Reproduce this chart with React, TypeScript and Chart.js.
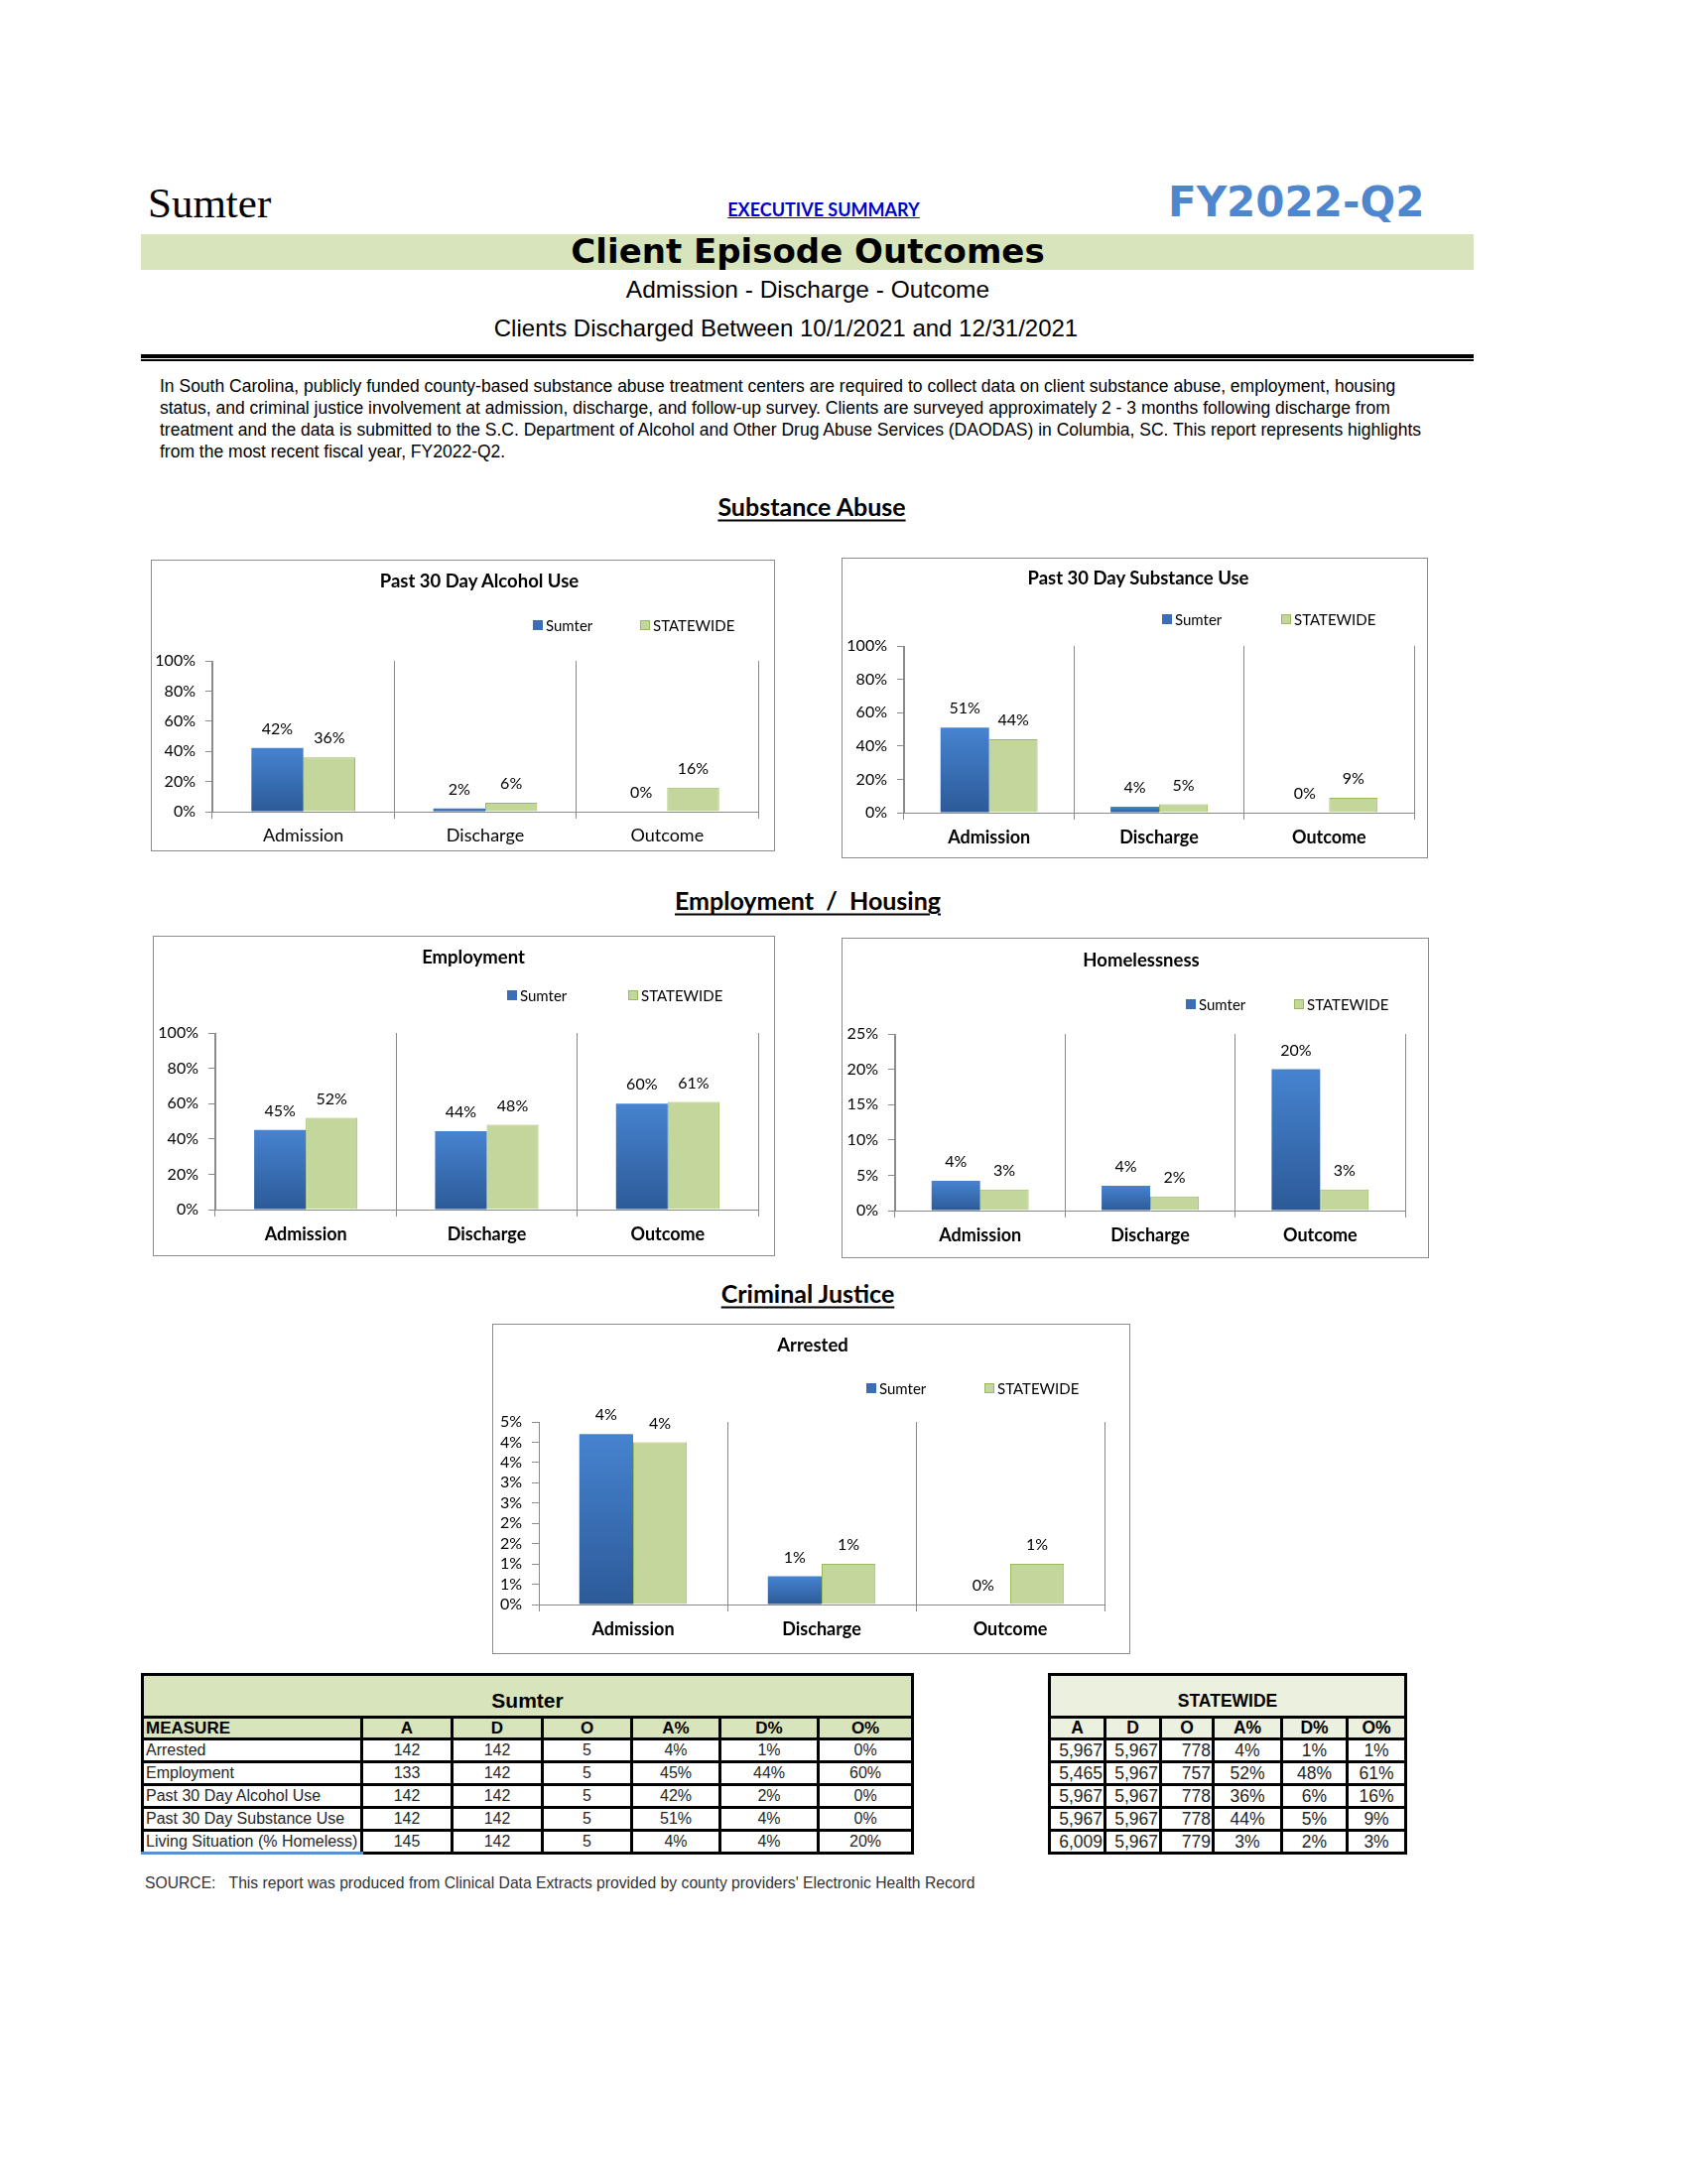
import React, { useEffect, useRef } from "react";
import { Chart, registerables } from "chart.js";

Chart.register(...registerables);
Chart.defaults.font.family = "Lato, 'Open Sans', sans-serif";

// ---------------- data ----------------
const categories = ["Admission", "Discharge", "Outcome"];
const seriesLabels = ["Sumter", "STATEWIDE"];

const alcoholSumter = [42.3, 2.1, 0];
const alcoholStatewide = [36, 6, 16];
const substanceSumter = [51, 3.5, 0];
const substanceStatewide = [44, 5, 9];
const employmentSumter = [45.1, 44.4, 60];
const employmentStatewide = [52, 48, 61];
const homelessSumter = [4.2, 3.5, 20];
const homelessStatewide = [3, 2, 3];
const arrestedSumter = [4.2, 0.7, 0];
const arrestedStatewide = [4, 1, 1];

const tableColumns = ["A", "D", "O", "A%", "D%", "O%"];
const measures = [
  "Arrested",
  "Employment",
  "Past 30 Day Alcohol Use",
  "Past 30 Day Substance Use",
  "Living Situation (% Homeless)",
];
const sumterA = ["142", "133", "142", "142", "145"];
const sumterD = ["142", "142", "142", "142", "142"];
const sumterO = ["5", "5", "5", "5", "5"];
const sumterAPct = ["4%", "45%", "42%", "51%", "4%"];
const sumterDPct = ["1%", "44%", "2%", "4%", "4%"];
const sumterOPct = ["0%", "60%", "0%", "0%", "20%"];
const stateA = ["5,967", "5,465", "5,967", "5,967", "6,009"];
const stateD = ["5,967", "5,967", "5,967", "5,967", "5,967"];
const stateO = ["778", "757", "778", "778", "779"];
const stateAPct = ["4%", "52%", "36%", "44%", "3%"];
const stateDPct = ["1%", "48%", "6%", "5%", "2%"];
const stateOPct = ["1%", "61%", "16%", "9%", "3%"];

const introLines = [
  "In South Carolina, publicly funded county-based substance abuse treatment centers are required to collect data on client substance abuse, employment, housing",
  "status, and criminal justice involvement at admission, discharge, and follow-up survey. Clients are surveyed approximately 2 - 3 months following discharge from",
  "treatment and the data is submitted to the S.C. Department of Alcohol and Other Drug Abuse Services (DAODAS) in Columbia, SC.  This report represents highlights",
  "from the most recent fiscal year, FY2022-Q2.",
];

// ---------------- styles ----------------
const AXIS = "#8a8a8a";
const GREEN = "#c3d69b";
const GREEN_EDGE = "#9bbb59";
const BLUE_SOLID = "#3a6fb7";

const blueGradient = (ctx: any) => {
  const chart = ctx.chart;
  if (ctx.type !== "data" || !chart.chartArea || !chart.scales || !chart.scales.y) return BLUE_SOLID;
  const ys = chart.scales.y;
  const v = Number(ctx.raw);
  const top = ys.getPixelForValue(v);
  const base = ys.getPixelForValue(0);
  if (!isFinite(top) || !isFinite(base) || base - top < 1) return BLUE_SOLID;
  const g = chart.ctx.createLinearGradient(0, top, 0, base);
  g.addColorStop(0, "#4683d0");
  g.addColorStop(1, "#2c5a98");
  return g;
};

const valueLabels = {
  id: "valueLabels",
  afterDatasetsDraw(chart: any) {
    const ctx = chart.ctx;
    ctx.save();
    ctx.font = "16px Lato, 'Open Sans', sans-serif";
    ctx.fillStyle = "#000";
    ctx.textAlign = "center";
    ctx.textBaseline = "middle";
    chart.data.datasets.forEach((ds: any, i: number) => {
      const meta = chart.getDatasetMeta(i);
      meta.data.forEach((el: any, j: number) => {
        const v = Number(ds.data[j]);
        ctx.fillText(Math.round(v) + "%", el.x, el.y - 19);
      });
    });
    ctx.restore();
  },
};

type ChartProps = {
  title: string;
  sumter: number[];
  statewide: number[];
  yMax: number;
  yStep: number;
  boldCats: boolean;
  box: [number, number, number, number];
  plot: [number, number, number, number];
  titleXY: [number, number];
  legendY: number;
  legendX: [number, number];
  catY: number;
};

function BarChart(p: ChartProps) {
  const ref = useRef<HTMLCanvasElement | null>(null);
  const [L, T, R, B] = p.box;
  const [pL, pT, pR, pB] = p.plot;
  const w = R - L;
  const h = B - T;
  useEffect(() => {
    const canvas = ref.current;
    if (!canvas) return;
    const chart = new Chart(canvas, {
      type: "bar",
      data: {
        labels: categories,
        datasets: [
          { label: seriesLabels[0], data: p.sumter, backgroundColor: blueGradient as any, borderWidth: 0 },
          { label: seriesLabels[1], data: p.statewide, backgroundColor: GREEN, borderColor: GREEN_EDGE, borderWidth: 1 },
        ],
      },
      options: {
        responsive: false,
        animation: false,
        devicePixelRatio: 1,
        layout: { padding: { top: pT - T, right: R - pR, left: 0, bottom: 0 } },
        plugins: { legend: { display: false }, title: { display: false }, tooltip: { enabled: false } },
        datasets: { bar: { categoryPercentage: 0.571, barPercentage: 1 } },
        scales: {
          x: {
            afterFit: (s: any) => {
              s.height = B - pB;
            },
            grid: { offset: true, color: AXIS, lineWidth: 1, drawTicks: true, tickLength: 7 },
            border: { display: true, color: AXIS, width: 1 },
            ticks: {
              color: "#000",
              font: { size: 18, weight: p.boldCats ? "bold" : "normal" },
              padding: Math.max(0, p.catY - pB - 7 - 10.8),
            },
          },
          y: {
            afterFit: (s: any) => {
              s.width = pL - L;
            },
            min: 0,
            max: p.yMax,
            ticks: {
              stepSize: p.yStep,
              autoSkip: false,
              color: "#000",
              font: { size: 16 },
              padding: 10,
              callback: (v: any) => Math.round(Math.round(Number(v) * 1000) / 1000) + "%",
            },
            grid: { drawOnChartArea: false, drawTicks: true, tickLength: 7, color: AXIS },
            border: { display: true, color: AXIS, width: 1 },
          },
        },
      } as any,
      plugins: [valueLabels as any],
    });
    return () => chart.destroy();
  }, []);

  const legendText: React.CSSProperties = {
    position: "absolute",
    fontFamily: "Lato, sans-serif",
    fontSize: 15,
    lineHeight: "15px",
    top: p.legendY - 7.5,
    whiteSpace: "nowrap",
  };
  return (
    <>
      <div
        style={{
          position: "absolute",
          left: L,
          top: T,
          width: w,
          height: h,
          border: "1px solid #8c8c8c",
          boxSizing: "border-box",
        }}
      />
      <canvas ref={ref} width={w} height={h} style={{ position: "absolute", left: L, top: T, width: w, height: h }} />
      <div
        style={{
          position: "absolute",
          left: p.titleXY[0],
          top: p.titleXY[1],
          transform: "translate(-50%, -50%)",
          fontFamily: "Lato, sans-serif",
          fontWeight: "bold",
          fontSize: 18.5,
          lineHeight: "19px",
          whiteSpace: "nowrap",
        }}
      >
        {p.title}
      </div>
      <div style={{ position: "absolute", left: p.legendX[0], top: p.legendY - 5, width: 10, height: 10, background: BLUE_SOLID }} />
      <div style={{ ...legendText, left: p.legendX[0] + 13 }}>{seriesLabels[0]}</div>
      <div
        style={{
          position: "absolute",
          left: p.legendX[1],
          top: p.legendY - 5,
          width: 10,
          height: 10,
          background: GREEN,
          border: "1px solid " + GREEN_EDGE,
          boxSizing: "border-box",
        }}
      />
      <div style={{ ...legendText, left: p.legendX[1] + 13 }}>{seriesLabels[1]}</div>
    </>
  );
}

function CText(props: { x: number; y: number; style?: React.CSSProperties; children: React.ReactNode }) {
  return (
    <div
      style={{
        position: "absolute",
        left: props.x,
        top: props.y,
        transform: "translate(-50%, -50%)",
        whiteSpace: "nowrap",
        lineHeight: 1,
        ...props.style,
      }}
    >
      {props.children}
    </div>
  );
}

function LText(props: { x: number; y: number; style?: React.CSSProperties; children: React.ReactNode }) {
  return (
    <div
      style={{
        position: "absolute",
        left: props.x,
        top: props.y,
        transform: "translateY(-50%)",
        whiteSpace: "nowrap",
        lineHeight: 1.15,
        ...props.style,
      }}
    >
      {props.children}
    </div>
  );
}

const heading: React.CSSProperties = {
  fontFamily: "Lato, sans-serif",
  fontWeight: "bold",
  fontSize: 25,
  textDecoration: "underline",
  textUnderlineOffset: 4,
};

const cell: React.CSSProperties = {
  border: "3px solid #000",
  padding: "0 3px",
  fontSize: 16,
  lineHeight: "16px",
  color: "#262626",
  whiteSpace: "nowrap",
  overflow: "hidden",
};

function SumterTable() {
  const widths = [221, 91, 91, 90, 89, 99, 95];
  const rows = measures.map((m, i) => [m, sumterA[i], sumterD[i], sumterO[i], sumterAPct[i], sumterDPct[i], sumterOPct[i]]);
  return (
    <table
      style={{
        position: "absolute",
        left: 142,
        top: 1686,
        width: 776,
        borderCollapse: "collapse",
        tableLayout: "fixed",
        fontFamily: "'Liberation Sans', Arial, sans-serif",
      }}
    >
      <colgroup>
        {widths.map((w, i) => (
          <col key={i} style={{ width: w }} />
        ))}
      </colgroup>
      <tbody>
        <tr style={{ height: 43 }}>
          <td
            colSpan={7}
            style={{ ...cell, background: "#d8e4bc", textAlign: "center", verticalAlign: "bottom", fontWeight: "bold", fontSize: 21, lineHeight: "21px", color: "#000", paddingBottom: 5 }}
          >
            Sumter
          </td>
        </tr>
        <tr style={{ height: 22 }}>
          <td style={{ ...cell, background: "#d8e4bc", fontWeight: "bold", fontSize: 17, lineHeight: "17px", color: "#000", padding: "0 2px" }}>MEASURE</td>
          {tableColumns.map((c) => (
            <td key={c} style={{ ...cell, background: "#d8e4bc", fontWeight: "bold", fontSize: 17, lineHeight: "17px", color: "#000", textAlign: "center" }}>
              {c}
            </td>
          ))}
        </tr>
        {rows.map((r, i) => (
          <tr key={i} style={{ height: 23 }}>
            {r.map((v, j) => (
              <td
                key={j}
                style={{
                  ...cell,
                  textAlign: j === 0 ? "left" : "center",
                  padding: j === 0 ? "0 2px" : "0 3px",
                  ...(i === rows.length - 1 && j === 0 ? { borderBottom: "3px solid #5b8fd0" } : {}),
                }}
              >
                {v}
              </td>
            ))}
          </tr>
        ))}
      </tbody>
    </table>
  );
}

function StateTable() {
  const widths = [56, 56, 53, 69, 66, 59];
  const rows = measures.map((_, i) => [stateA[i], stateD[i], stateO[i], stateAPct[i], stateDPct[i], stateOPct[i]]);
  return (
    <table
      style={{
        position: "absolute",
        left: 1056,
        top: 1686,
        width: 359,
        borderCollapse: "collapse",
        tableLayout: "fixed",
        fontFamily: "'Liberation Sans', Arial, sans-serif",
      }}
    >
      <colgroup>
        {widths.map((w, i) => (
          <col key={i} style={{ width: w }} />
        ))}
      </colgroup>
      <tbody>
        <tr style={{ height: 43 }}>
          <td
            colSpan={6}
            style={{ ...cell, background: "#ebf1de", textAlign: "center", verticalAlign: "bottom", fontWeight: "bold", fontSize: 17.5, lineHeight: "18px", color: "#000", paddingBottom: 6 }}
          >
            STATEWIDE
          </td>
        </tr>
        <tr style={{ height: 22 }}>
          {tableColumns.map((c) => (
            <td key={c} style={{ ...cell, background: "#ebf1de", fontWeight: "bold", fontSize: 17.5, lineHeight: "17px", color: "#000", textAlign: "center" }}>
              {c}
            </td>
          ))}
        </tr>
        {rows.map((r, i) => (
          <tr key={i} style={{ height: 23 }}>
            {r.map((v, j) => (
              <td key={j} style={{ ...cell, fontSize: 17.5, lineHeight: "17px", textAlign: j < 3 ? "right" : "center", padding: j < 3 ? "0 1px" : "0 3px" }}>
                {v}
              </td>
            ))}
          </tr>
        ))}
      </tbody>
    </table>
  );
}

export default function App() {
  return (
    <div
      style={{
        position: "absolute",
        left: 0,
        top: 0,
        width: 1701,
        height: 2201,
        background: "#fff",
        fontFamily: "'Liberation Sans', Arial, sans-serif",
        color: "#000",
        overflow: "hidden",
      }}
    >
      <LText x={149} y={205} style={{ fontFamily: "'Liberation Serif', 'Times New Roman', serif", fontSize: 43 }}>
        Sumter
      </LText>
      <CText x={830} y={211} style={{ fontFamily: "Lato, sans-serif", fontWeight: "bold", fontSize: 18, color: "#0000cc", textDecoration: "underline" }}>
        EXECUTIVE SUMMARY
      </CText>
      <LText x={1177} y={204} style={{ fontFamily: "'DejaVu Sans', sans-serif", fontWeight: "bold", fontSize: 42, color: "#4f87cf" }}>
        FY2022-Q2
      </LText>

      <div style={{ position: "absolute", left: 142, top: 236, width: 1343, height: 36, background: "#d8e4bc" }} />
      <CText x={814} y={253} style={{ fontFamily: "'DejaVu Sans', sans-serif", fontWeight: "bold", fontSize: 34 }}>
        Client Episode Outcomes
      </CText>
      <CText x={814} y={292} style={{ fontSize: 24.5 }}>
        Admission - Discharge - Outcome
      </CText>
      <CText x={792} y={331} style={{ fontSize: 24 }}>
        Clients Discharged Between 10/1/2021 and 12/31/2021
      </CText>
      <div style={{ position: "absolute", left: 142, top: 357, width: 1343, height: 4, background: "#000" }} />
      <div style={{ position: "absolute", left: 142, top: 362, width: 1343, height: 2, background: "#000" }} />

      {introLines.map((t, i) => (
        <LText key={i} x={161} y={389 + i * 22} style={{ fontSize: 17.5 }}>
          {t}
        </LText>
      ))}

      <CText x={818} y={510} style={heading}>
        Substance Abuse
      </CText>
      <CText x={814} y={907} style={heading}>
        Employment&nbsp;&nbsp;/&nbsp;&nbsp;Housing
      </CText>
      <CText x={814} y={1303} style={heading}>
        Criminal Justice
      </CText>

      <BarChart
        title="Past 30 Day Alcohol Use"
        sumter={alcoholSumter}
        statewide={alcoholStatewide}
        yMax={100}
        yStep={20}
        boldCats={false}
        box={[152, 564, 781, 858]}
        plot={[214, 666, 764, 818]}
        titleXY={[483, 585]}
        legendY={630}
        legendX={[537, 645]}
        catY={842}
      />
      <BarChart
        title="Past 30 Day Substance Use"
        sumter={substanceSumter}
        statewide={substanceStatewide}
        yMax={100}
        yStep={20}
        boldCats={true}
        box={[848, 562, 1439, 865]}
        plot={[911, 651, 1425, 819]}
        titleXY={[1147, 582]}
        legendY={624}
        legendX={[1171, 1291]}
        catY={844}
      />
      <BarChart
        title="Employment"
        sumter={employmentSumter}
        statewide={employmentStatewide}
        yMax={100}
        yStep={20}
        boldCats={true}
        box={[154, 943, 781, 1266]}
        plot={[217, 1041, 764, 1219]}
        titleXY={[477, 964]}
        legendY={1003}
        legendX={[511, 633]}
        catY={1244}
      />
      <BarChart
        title="Homelessness"
        sumter={homelessSumter}
        statewide={homelessStatewide}
        yMax={25}
        yStep={5}
        boldCats={true}
        box={[848, 945, 1440, 1268]}
        plot={[902, 1042, 1416, 1220]}
        titleXY={[1150, 967]}
        legendY={1012}
        legendX={[1195, 1304]}
        catY={1245}
      />
      <BarChart
        title="Arrested"
        sumter={arrestedSumter}
        statewide={arrestedStatewide}
        yMax={4.5}
        yStep={0.5}
        boldCats={true}
        box={[496, 1334, 1139, 1667]}
        plot={[543, 1433, 1113, 1617]}
        titleXY={[819, 1355]}
        legendY={1399}
        legendX={[873, 992]}
        catY={1642}
      />

      <SumterTable />
      <StateTable />

      <LText x={146} y={1898} style={{ fontSize: 15.7, color: "#333" }}>
        SOURCE:&nbsp;&nbsp;&nbsp;This report was produced from Clinical Data Extracts provided by county providers' Electronic Health Record
      </LText>
    </div>
  );
}
